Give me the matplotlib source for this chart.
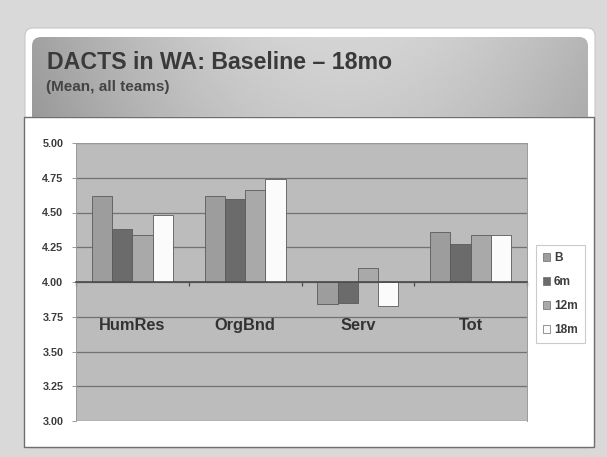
import numpy as np
import matplotlib
matplotlib.use("Agg")
import matplotlib.pyplot as plt
from matplotlib.patches import FancyBboxPatch, Rectangle, Patch

plt.rcParams['font.family'] = ['Liberation Sans', 'DejaVu Sans']

categories = ['HumRes', 'OrgBnd', 'Serv', 'Tot']
series_names = ['B', '6m', '12m', '18m']
vals_B = [4.62, 4.62, 3.84, 4.36]
vals_6m = [4.38, 4.60, 3.85, 4.27]
vals_12m = [4.34, 4.66, 4.10, 4.34]
vals_18m = [4.48, 4.74, 3.83, 4.34]
yticks = [3.00, 3.25, 3.50, 3.75, 4.00, 4.25, 4.50, 4.75, 5.00]
title = 'DACTS in WA: Baseline \u2013 18mo'
subtitle = '(Mean, all teams)'

series_vals = [vals_B, vals_6m, vals_12m, vals_18m]
colors = ['#9d9d9d', '#6b6b6b', '#a9a9a9', '#fbfbfb']

W, H = 607, 457
fig = plt.figure(figsize=(W / 100, H / 100), dpi=100)
fig.patch.set_facecolor('#d9d9d9')

def fx(px):
    return px / W

def fy(py):
    return 1 - py / H

# white slide panel
bg = fig.add_axes([0, 0, 1, 1])
bg.set_xlim(0, W)
bg.set_ylim(H, 0)
bg.axis('off')
bg.add_patch(FancyBboxPatch((25, 28), 570, 420, boxstyle='round,pad=0,rounding_size=8',
                            facecolor='white', edgecolor='#c8c8c8', lw=0.8))

# header gradient band
hx0, hy0, hx1, hy1 = 32, 37, 588, 117
hax = fig.add_axes([fx(hx0), fy(hy1), fx(hx1 - hx0), (hy1 - hy0) / H])
hax.set_xlim(0, hx1 - hx0)
hax.set_ylim(0, hy1 - hy0)
hax.axis('off')
xs = np.linspace(0, 1, 256)
prof = 0.62 + 0.17 * np.sin(np.pi * np.clip(xs * 0.95, 0, 1)) + 0.05 * xs
ys = np.linspace(0, 1, 64)[:, None]
grad = prof[None, :] * (0.97 + 0.05 * ys)
im = hax.imshow(grad, cmap='gray', vmin=0, vmax=1, extent=[0, hx1 - hx0, 0, hy1 - hy0],
                aspect='auto', origin='lower')
clip = FancyBboxPatch((0, -20), hx1 - hx0, hy1 - hy0 + 20, boxstyle='round,pad=0,rounding_size=9',
                      facecolor='none', edgecolor='none', transform=hax.transData)
hax.add_patch(clip)
im.set_clip_path(clip)

fig.text(fx(47), fy(69), title, fontsize=16.7, fontweight='bold', color='#3a3a3a', va='baseline')
fig.text(fx(46), fy(90.5), subtitle, fontsize=11, fontweight='bold', color='#444444', va='baseline')

# chart box
bg.add_patch(Rectangle((24, 117), 570, 330, facecolor='white', edgecolor='#6f6f6f', lw=1.0, zorder=3))

# main plot
ax = fig.add_axes([fx(76), fy(421), fx(451), 278 / H])
ax.set_facecolor('#bcbcbc')
x = np.arange(len(categories))
w = 0.18
handles = []
for i, (name, vals, c) in enumerate(zip(series_names, series_vals, colors)):
    heights = np.array(vals) - 4.0
    ax.bar(x + (i - 1.5) * w, heights, w, bottom=4.0, color=c, edgecolor='#5a5a5a', lw=0.6, zorder=3)
    handles.append(Patch(facecolor=c, edgecolor='#6a6a6a', lw=0.5, label=name))

ax.set_ylim(3.0, 5.0)
ax.set_xlim(-0.5, len(categories) - 0.5)
ax.set_yticks(yticks)
ax.set_yticklabels([f'{v:.2f}' for v in yticks])
ax.yaxis.grid(True, color='#727272', lw=0.9, zorder=1)
ax.set_axisbelow(True)
ax.tick_params(axis='y', length=3, width=0.6, color='#8a8a8a', pad=6, labelsize=7.8,
               labelcolor='#3c3c3c')
for lab in ax.get_yticklabels():
    lab.set_fontweight('bold')

ax.spines['bottom'].set_position(('data', 4.0))
ax.spines['bottom'].set_color('#4a4a4a')
ax.spines['bottom'].set_linewidth(1.2)
ax.spines['bottom'].set_zorder(4)
for s in ['left', 'right', 'top']:
    ax.spines[s].set_color('#9a9a9a')
    ax.spines[s].set_linewidth(0.7)
ax.set_xticks(np.arange(len(categories) + 1) - 0.5)
ax.set_xticklabels([])
ax.tick_params(axis='x', length=3, width=0.9, color='#4a4a4a', direction='out')

for xi, cat in zip(x, categories):
    ax.text(xi, 3.69, cat, ha='center', va='center', fontsize=11.8, fontweight='bold', color='#333333')

leg = fig.legend(handles=handles, loc='upper left', bbox_to_anchor=(fx(535.5), fy(245)),
                 frameon=True, fancybox=False, fontsize=8.6, handlelength=0.6, handleheight=0.6,
                 handletextpad=0.35, labelspacing=1.0, borderpad=0.6, borderaxespad=0)
leg.get_frame().set_edgecolor('#bdbdbd')
leg.get_frame().set_linewidth(0.8)
for t in leg.get_texts():
    t.set_fontweight('bold')
    t.set_color('#3c3c3c')

fig.savefig('out.png', dpi=100, facecolor=fig.get_facecolor())
